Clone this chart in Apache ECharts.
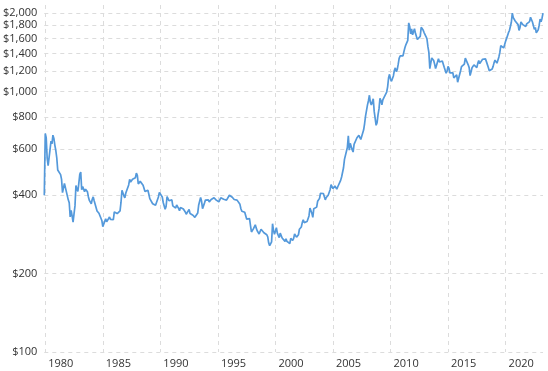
<!DOCTYPE html>
<html>
<head>
<meta charset="utf-8">
<script src="https://cdn.jsdelivr.net/npm/echarts@6/dist/echarts.min.js"></script>
<style>
html,body{margin:0;padding:0;background:#fff;}
#chart{width:548px;height:371px;}
</style>
</head>
<body>
<div id="chart"></div>
<script>
// Gold price, USD per ounce, monthly (first value = Dec 1979)
const startYear = 1979;
const startMonth = 12;
const gold1979 = [400];
const gold1980s = [
  690,665,555,520,515,600,645,630,680,661,623,594,
  557,500,499,495,480,460,409,410,444,437,413,410,
  384,374,330,350,333,315,339,364,436,422,414,444,
  481,491,420,432,438,413,422,416,412,394,382,388,
  371,386,394,381,377,378,348,348,341,340,341,320,
  303,299,304,325,316,317,317,330,323,326,325,322,
  345,339,346,340,342,343,348,376,418,423,398,391,
  408,401,409,438,460,450,450,461,460,465,467,486,
  477,442,444,452,451,452,437,432,413,406,420,418,
  404,388,390,384,371,367,375,366,362,367,394,410
];
const gold1990s = [
  410,417,394,375,369,353,362,395,389,381,381,378,
  384,364,363,358,357,367,368,356,349,359,360,361,
  354,354,345,338,337,341,353,340,345,344,335,334,
  329,329,330,342,367,371,392,379,355,364,373,383,
  387,382,384,377,381,385,385,380,391,389,384,379,
  379,377,382,391,385,387,386,383,383,383,386,387,
  400,405,396,393,392,385,383,387,383,381,378,369,
  355,347,352,344,344,341,324,324,323,325,306,289,
  289,297,296,308,299,292,293,284,289,296,294,291,
  287,288,286,282,277,262,256,257,265,311,293,283
];
const gold2000s = [
  285,300,286,280,275,286,282,274,273,270,266,272,
  266,262,263,261,273,270,268,273,284,283,276,276,
  282,296,294,302,314,322,314,310,319,317,319,333,
  357,359,341,329,355,356,351,360,379,379,389,407,
  414,405,406,404,384,392,398,400,406,420,439,442,
  424,423,434,429,422,431,424,438,456,470,476,510,
  549,555,557,610,676,596,633,632,598,586,627,629,
  631,665,655,679,667,655,665,665,713,754,806,803,
  889,922,968,909,888,890,939,839,830,742,760,816,
  858,943,924,890,929,946,934,949,996,1043,1130,1165
];
const gold2010s = [
  1118,1095,1113,1148,1205,1233,1193,1215,1271,1342,1370,1391,
  1357,1372,1424,1474,1512,1529,1573,1835,1780,1666,1739,1652,
  1656,1743,1674,1650,1585,1596,1594,1630,1765,1775,1722,1685,
  1671,1627,1593,1487,1414,1225,1286,1347,1349,1316,1275,1225,
  1244,1300,1336,1299,1287,1279,1311,1296,1239,1222,1176,1200,
  1250,1227,1179,1198,1199,1181,1128,1117,1125,1159,1086,1068,
  1097,1199,1246,1242,1260,1276,1345,1341,1326,1267,1236,1152,
  1192,1234,1231,1266,1246,1260,1237,1283,1315,1280,1282,1265,
  1331,1331,1325,1335,1303,1282,1238,1202,1199,1215,1221,1250,
  1292,1320,1301,1286,1284,1359,1413,1500,1511,1495,1471,1480
];
const gold2020s = [
  1560,1597,1592,1683,1716,1732,1846,2000,1922,1900,1866,1858,
  1867,1808,1718,1760,1850,1834,1807,1785,1776,1777,1820,1790,
  1816,1856,1930,1937,1849,1837,1733,1765,1681,1664,1726,1798,
  1898,1854,1913,2000
];
const xTicks = [1980,1985,1990,1995,2000,2005,2010,2015,2020];
const yTicks = [100,200,400,600,800,1000,1200,1400,1600,1800,2000];

const prices = [].concat(gold1979, gold1980s, gold1990s, gold2000s, gold2010s, gold2020s);
const seriesData = prices.map((v, i) => [startYear + (startMonth - 1 + i) / 12, v]);

const font = 'Open Sans, Liberation Sans, sans-serif';
const gridLine = { show: true, lineStyle: { color: '#dcdcdc', type: [4, 4], width: 1 } };

const chart = echarts.init(document.getElementById('chart'), null, { renderer: 'canvas' });
chart.setOption({
  animation: false,
  grid: { left: 43.6, right: 5, top: 5, bottom: 19, containLabel: false },
  xAxis: {
    type: 'value',
    min: seriesData[0][0],
    max: seriesData[seriesData.length - 1][0],
    axisLine: { show: false },
    axisTick: { show: false, customValues: xTicks },
    splitLine: gridLine,
    axisLabel: {
      customValues: xTicks,
      formatter: v => String(Math.round(v)),
      align: 'left',
      padding: [0, 0, 0, 3],
      margin: 6,
      color: '#333',
      fontSize: 11,
      fontFamily: font,
      showMinLabel: true,
      showMaxLabel: true
    }
  },
  yAxis: {
    type: 'log',
    logBase: 10,
    min: 100,
    max: 2150,
    axisLine: { show: false },
    axisTick: { show: false, customValues: yTicks },
    splitLine: gridLine,
    axisLabel: {
      customValues: yTicks,
      formatter: v => '$' + Math.round(v).toLocaleString('en-US'),
      margin: 7,
      color: '#333',
      fontSize: 11,
      fontFamily: font
    }
  },
  series: [{
    type: 'line',
    data: seriesData,
    showSymbol: false,
    symbol: 'none',
    lineStyle: { color: '#5499db', width: 1.7 },
    z: 5
  }]
});
</script>
</body>
</html>
